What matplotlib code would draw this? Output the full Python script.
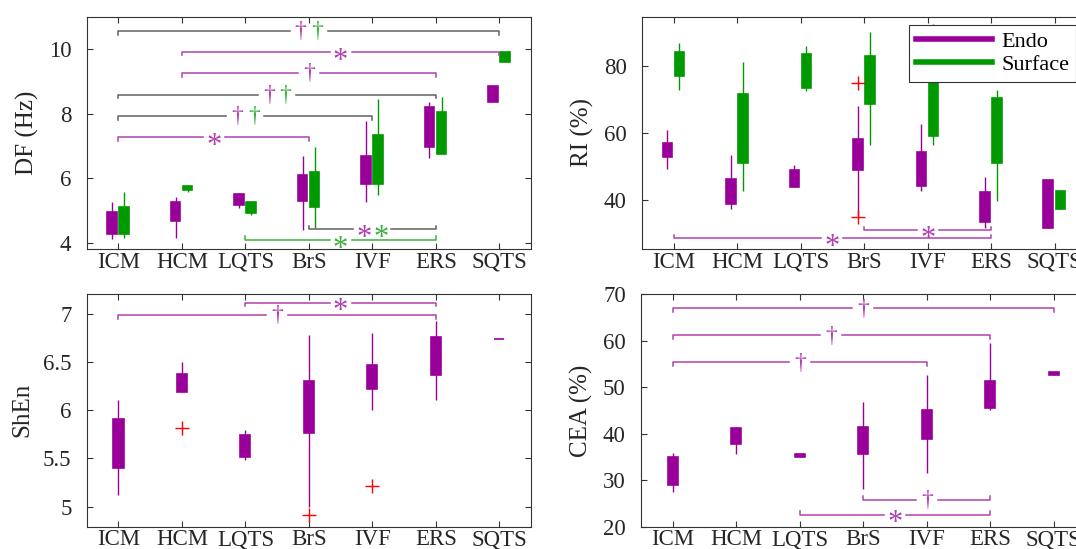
import numpy as np
import matplotlib.pyplot as plt
from matplotlib.lines import Line2D

plt.rcParams['font.family'] = ['Liberation Serif', 'DejaVu Serif']
plt.rcParams['font.size'] = 16

######################## Data ########################
groups = ['ICM', 'HCM', 'LQTS', 'BrS', 'IVF', 'ERS', 'SQTS']

# DF (Hz) - whisker low, q1, q3, whisker high
df_endo_lo = [4.12, 4.16, 5.07, 4.40, 5.28, 6.62, 8.36]
df_endo_q1 = [4.27, 4.68, 5.18, 5.30, 5.82, 6.98, 8.36]
df_endo_q3 = [4.97, 5.27, 5.52, 6.11, 6.71, 8.22, 8.86]
df_endo_hi = [5.26, 5.42, 5.54, 6.70, 7.77, 8.36, 8.86]
df_surf_lo = [4.16, 5.58, 4.87, 4.47, 5.47, 6.75, 9.62]
df_surf_q1 = [4.27, 5.64, 4.92, 5.11, 5.84, 6.75, 9.62]
df_surf_q3 = [5.12, 5.77, 5.26, 6.19, 7.36, 8.06, 9.92]
df_surf_hi = [5.59, 5.78, 5.30, 6.98, 8.45, 8.51, 9.92]

# RI (%)
ri_endo_lo = [49.1, 37.2, 43.7, 35.5, 42.5, 31.5, 31.5]
ri_endo_q1 = [52.8, 38.7, 43.9, 48.9, 44.2, 33.2, 31.5]
ri_endo_q3 = [56.9, 46.2, 48.9, 58.2, 54.2, 42.2, 46.0]
ri_endo_hi = [60.8, 53.5, 50.5, 68.0, 62.8, 46.9, 46.0]
ri_surf_lo = [72.8, 42.5, 72.6, 56.4, 56.5, 39.7, 37.2]
ri_surf_q1 = [77.1, 51.1, 73.6, 68.8, 59.2, 51.0, 37.2]
ri_surf_q3 = [84.3, 71.8, 83.8, 83.0, 84.0, 70.5, 42.7]
ri_surf_hi = [87.0, 81.3, 86.3, 90.3, 92.8, 73.0, 42.7]
ri_out_group = [3, 3]
ri_out_value = [75.0, 34.7]

# ShEn
sh_lo = [5.12, 6.19, 5.48, 5.00, 6.00, 6.11, 6.74]
sh_q1 = [5.40, 6.19, 5.51, 5.76, 6.22, 6.37, 6.74]
sh_q3 = [5.91, 6.38, 5.74, 6.31, 6.47, 6.76, 6.74]
sh_hi = [6.11, 6.50, 5.80, 6.78, 6.80, 6.93, 6.74]
sh_out_group = [1, 3, 4]
sh_out_value = [5.82, 4.91, 5.21]

# CEA (%)
cea_lo = [27.5, 35.7, 35.0, 28.0, 31.6, 45.1, 52.7]
cea_q1 = [29.0, 37.7, 35.0, 35.7, 38.8, 45.5, 52.7]
cea_q3 = [35.0, 41.2, 35.6, 41.4, 45.1, 51.2, 53.3]
cea_hi = [35.8, 41.4, 35.6, 46.9, 52.6, 59.5, 53.3]

# significance brackets: (from group, to group, y, marks, line colour, side)
# marks: p = purple (Endo), g = green (Surface); side +1 = above data, -1 = below
df_sig = [
    (0, 6, 10.57, [('\u2020', 'p'), ('\u2020', 'g')], 'k', 1),
    (1, 6, 9.92, [('*', 'p')], 'p', 1),
    (1, 5, 9.26, [('\u2020', 'p')], 'p', 1),
    (0, 5, 8.59, [('\u2020', 'p'), ('\u2020', 'g')], 'k', 1),
    (0, 4, 7.93, [('\u2020', 'p'), ('\u2020', 'g')], 'k', 1),
    (0, 3, 7.28, [('*', 'p')], 'p', 1),
    (3, 5, 4.42, [('*', 'p'), ('*', 'g')], 'k', -1),
    (2, 5, 4.09, [('*', 'g')], 'g', -1),
]
ri_sig = [
    (0, 5, 28.4, [('*', 'p')], 'p', -1),
    (3, 5, 30.9, [('*', 'p')], 'p', -1),
]
sh_sig = [
    (2, 5, 7.12, [('*', 'p')], 'p', 1),
    (0, 5, 6.99, [('\u2020', 'p')], 'p', 1),
]
cea_sig = [
    (0, 6, 66.9, [('\u2020', 'p')], 'p', 1),
    (0, 5, 61.1, [('\u2020', 'p')], 'p', 1),
    (0, 4, 55.3, [('\u2020', 'p')], 'p', 1),
    (3, 5, 25.8, [('\u2020', 'p')], 'p', -1),
    (2, 5, 22.6, [('*', 'p')], 'p', -1),
]

purple = '#990099'
green = '#009900'
sig_colors = {'p': '#b040b0', 'g': '#3cb03c', 'k': '#606060'}
axis_col = '#333333'

pos = np.arange(1, len(groups) + 1)
FIG_W, FIG_H = 10.76, 5.49


def draw_boxes(ax, x, lo, q1, q3, hi, color, width):
    ax.vlines(x, lo, hi, color=color, lw=1.0, zorder=2)
    ax.bar(x, np.array(q3) - np.array(q1), bottom=q1, width=width,
           color=color, edgecolor=color, lw=1.2, zorder=3)


def draw_bracket(ax, i, j, y, marks, lcol, side):
    # pixel -> data scale factors
    bb = ax.get_position()
    x0, x1_ = ax.get_xlim()
    y0, y1_ = ax.get_ylim()
    px_x = (x1_ - x0) / (bb.width * FIG_W * 100)
    px_y = (y1_ - y0) / (bb.height * FIG_H * 100)
    dy = 3.5 * px_y * side
    n = len(marks)
    gap = (11 if n == 1 else 19) * px_x
    xa, xb = pos[i], pos[j]
    xc = (xa + xb) / 2
    col = sig_colors[lcol]
    ax.plot([xa, xa, xc - gap], [y - dy, y, y], color=col, lw=1.1, zorder=4)
    ax.plot([xc + gap, xb, xb], [y, y, y - dy], color=col, lw=1.1, zorder=4)
    for k, (sym, c) in enumerate(marks):
        off = (k - (n - 1) / 2) * 12
        if sym == '*':
            size, yoff = 22, -6.5
        else:
            size, yoff = 17, -0.5
        ax.annotate(sym, xy=(xc, y), xytext=(off, yoff), textcoords='offset points',
                    ha='center', va='center', fontsize=size, color=sig_colors[c],
                    zorder=5)


def style_axis(ax, ylim, yticks, ylabel):
    ax.set_xlim(0.5, 7.5)
    ax.set_ylim(*ylim)
    ax.set_yticks(yticks, ['%g' % t for t in yticks])
    ax.set_xticks(pos, groups)
    ax.set_ylabel(ylabel, fontsize=18, labelpad=7, color='#262626')
    ax.tick_params(direction='in', top=True, right=True, length=4, width=0.8,
                   colors=axis_col, labelcolor='#262626', labelsize=16.5)
    ax.tick_params(axis='x', pad=2)
    ax.tick_params(axis='y', pad=11)
    for s in ax.spines.values():
        s.set_color(axis_col)
        s.set_linewidth(0.8)


fig = plt.figure(figsize=(FIG_W, FIG_H), dpi=100)
ax1 = fig.add_axes([0.0806, 0.5464, 0.4129, 0.4235])
ax2 = fig.add_axes([0.5967, 0.5464, 0.4129, 0.4235])
ax3 = fig.add_axes([0.0806, 0.0406, 0.4129, 0.4239])
ax4 = fig.add_axes([0.5958, 0.0406, 0.4129, 0.4239])

# DF
style_axis(ax1, (3.81, 11.02), [4, 6, 8, 10], 'DF (Hz)')
draw_boxes(ax1, pos - 0.1, df_endo_lo, df_endo_q1, df_endo_q3, df_endo_hi, purple, 0.15)
draw_boxes(ax1, pos + 0.09, df_surf_lo, df_surf_q1, df_surf_q3, df_surf_hi, green, 0.15)
for b in df_sig:
    draw_bracket(ax1, *b)

# RI
style_axis(ax2, (25.2, 95.0), [40, 60, 80], 'RI (%)')
draw_boxes(ax2, pos - 0.1, ri_endo_lo, ri_endo_q1, ri_endo_q3, ri_endo_hi, purple, 0.15)
draw_boxes(ax2, pos + 0.09, ri_surf_lo, ri_surf_q1, ri_surf_q3, ri_surf_hi, green, 0.15)
ax2.plot(pos[ri_out_group] - 0.1, ri_out_value, '+', color='red', ms=10, mew=1.0, zorder=4)
for b in ri_sig:
    draw_bracket(ax2, *b)
handles = [Line2D([], [], color=purple, lw=4), Line2D([], [], color=green, lw=4)]
leg = ax2.legend(handles, ['Endo', 'Surface'], loc='upper left',
                 bbox_to_anchor=(0.6016, 0.9634), borderaxespad=0, handlelength=3.4,
                 fancybox=False, framealpha=1, edgecolor=axis_col, fontsize=16,
                 borderpad=0.3, labelspacing=0.1, handletextpad=0.45)
leg.get_frame().set_linewidth(0.8)
leg.set_zorder(10)

# ShEn
style_axis(ax3, (4.79, 7.21), [5, 5.5, 6, 6.5, 7], 'ShEn')
draw_boxes(ax3, pos, sh_lo, sh_q1, sh_q3, sh_hi, purple, 0.16)
ax3.plot(pos[sh_out_group], sh_out_value, '+', color='red', ms=10, mew=1.0, zorder=4)
for b in sh_sig:
    draw_bracket(ax3, *b)

# CEA
style_axis(ax4, (20, 70), [20, 30, 40, 50, 60, 70], 'CEA (%)')
draw_boxes(ax4, pos, cea_lo, cea_q1, cea_q3, cea_hi, purple, 0.16)
for b in cea_sig:
    draw_bracket(ax4, *b)

fig.savefig('out.png', dpi=100)
